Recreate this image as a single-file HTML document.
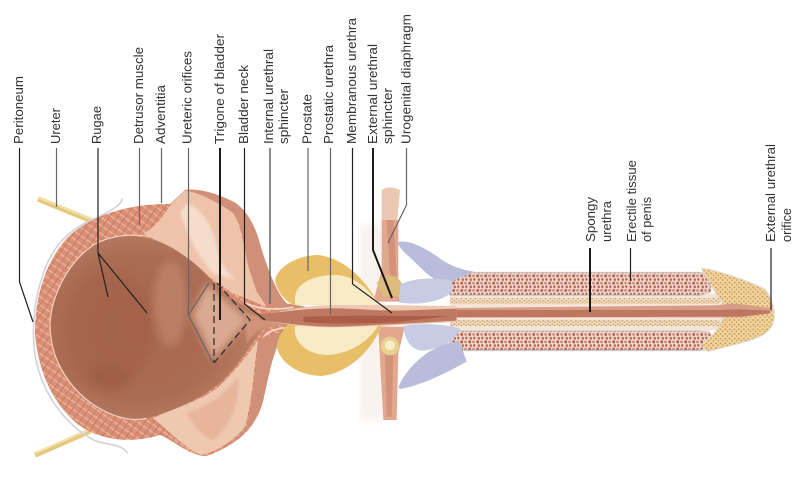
<!DOCTYPE html>
<html><head><meta charset="utf-8"><style>
html,body{margin:0;padding:0;background:#fff}
svg{display:block}
text{font-family:"Liberation Sans",sans-serif;font-size:13px;fill:#333}
.l{stroke:#222;stroke-width:1.2;fill:none}
.g{stroke:#666;stroke-width:1.2;fill:none}
.k{stroke:#111;stroke-width:1.9;fill:none}
</style></head><body>
<svg width="800" height="499" viewBox="0 0 800 499" xmlns="http://www.w3.org/2000/svg">
<defs>
<filter id="b1" x="-5%" y="-5%" width="110%" height="110%"><feGaussianBlur stdDeviation="1"/></filter>
<filter id="b3" x="-10%" y="-10%" width="120%" height="120%"><feGaussianBlur stdDeviation="4"/></filter>
<filter id="b8" x="-30%" y="-30%" width="160%" height="160%"><feGaussianBlur stdDeviation="12"/></filter>
<radialGradient id="lum" cx="0.4" cy="0.5" r="0.66">
<stop offset="0" stop-color="#a9664e"/><stop offset="0.6" stop-color="#ab6c54"/><stop offset="1" stop-color="#c08a72"/>
</radialGradient>
<pattern id="cav" width="24" height="22" patternUnits="userSpaceOnUse">
<rect width="24" height="22" fill="#f2d5c8"/>
<rect x="1" y="1" width="8" height="9" rx="3" fill="#b4614f"/>
<rect x="13" y="2" width="7" height="7" rx="3" fill="#c27765"/>
<rect x="5" y="13" width="7" height="8" rx="3" fill="#bb6a58"/>
<rect x="16" y="12" width="6" height="8" rx="3" fill="#a95a48"/>
</pattern>
<pattern id="sp" width="14" height="10" patternUnits="userSpaceOnUse">
<rect width="14" height="10" fill="#f2dfc0"/>
<rect x="1" y="1" width="5" height="3" fill="#b58a50"/>
<rect x="8" y="5" width="4" height="3" fill="#c0734f"/>
</pattern>
<pattern id="gl" width="14" height="14" patternUnits="userSpaceOnUse">
<rect width="14" height="14" fill="#f0d49c"/>
<rect x="1" y="2" width="5" height="4" fill="#c58f4c"/>
<rect x="8" y="8" width="4" height="4" fill="#c98a58"/>
</pattern>
<pattern id="mus" width="20" height="20" patternUnits="userSpaceOnUse" patternTransform="rotate(35)">
<rect width="20" height="20" fill="#d98f74"/>
<rect width="20" height="5" fill="#eaae96"/>
<rect x="8" width="3" height="20" fill="#c97a62"/>
</pattern>
</defs>
<rect width="800" height="499" fill="#fff"/>

<!-- ureters -->
<path d="M38,199 L97,223" stroke="#e6c97e" stroke-width="5.5" fill="none"/>
<path d="M38,197.5 L97,221.5" stroke="#f5e4ae" stroke-width="1.6" fill="none"/>
<path d="M35,455 L90,431" stroke="#e6c97e" stroke-width="5.5" fill="none"/>
<path d="M35,453 L90,429.5" stroke="#f5e4ae" stroke-width="1.6" fill="none"/>

<!-- urogenital diaphragm halo -->
<rect x="360" y="225" width="24" height="195" fill="#f3e4dd" opacity=".5" filter="url(#b3)"/>

<!-- bladder -->
<g transform="translate(0,170) scale(.33333)">
<path d="M368,85 C360,112 320,128 285,146 C215,172 160,222 130,310 C105,380 92,470 106,560 C125,660 185,760 285,812 C320,825 365,820 382,850" fill="none" stroke="#d3d3d8" stroke-width="5"/>
<path d="M510,102 L555,60 C600,55 650,70 705,98 C750,130 770,180 785,240 C805,300 830,370 860,400 L915,410 L915,470 L860,480 C825,520 810,600 790,690 C770,770 720,820 620,858 C570,860 520,810 480,795 C400,820 300,815 230,760 C160,700 115,610 105,490 C105,380 135,280 200,205 C270,135 390,100 510,102 Z" fill="url(#mus)"/>
<path d="M555,60 C600,55 650,70 705,98 C750,130 770,180 785,240 C805,300 830,370 860,400 L915,410 L880,425 L770,395 C750,330 735,220 720,165 C680,110 620,80 555,60 Z" fill="#cf8f78"/>
<!-- upper lobe -->
<path d="M515,100 L555,62 C595,66 660,100 700,130 C722,160 732,230 745,290 L770,365 L800,410 L700,370 L600,300 L520,240 L430,190 C470,170 495,130 515,100 Z" fill="#eec3aa"/>
<path d="M560,100 C600,110 640,170 650,230 C655,270 680,310 710,330 L640,310 C590,260 560,180 540,130 Z" fill="#f6dccb" filter="url(#b3)"/>
<!-- lower lobe -->
<path d="M460,745 C500,720 590,700 650,655 C700,610 740,560 775,510 C760,590 760,680 735,770 C700,815 650,845 605,855 C560,840 510,785 460,745 Z" fill="#efc8b0"/>
<path d="M560,730 C620,710 680,670 715,620 C720,680 700,760 640,810 C610,800 580,770 560,730 Z" fill="#e3ad94" filter="url(#b3)" opacity=".7"/>
<path d="M775,510 C765,590 765,680 740,770 C715,805 680,830 640,848 C700,825 770,770 790,690 C805,610 820,530 860,480 Z" fill="#cf8f78"/>
<!-- lumen -->
<path d="M150,460 C155,380 200,280 280,225 C330,195 400,190 470,212 C530,235 590,280 630,325 C680,380 740,420 800,438 L800,470 C770,490 730,570 680,620 C620,680 520,725 440,745 C370,760 280,720 220,650 C170,590 148,530 150,460 Z" fill="url(#lum)"/>
<ellipse cx="330" cy="480" rx="130" ry="180" fill="#a05d45" opacity=".45" filter="url(#b8)"/>
<ellipse cx="330" cy="620" rx="60" ry="35" fill="#95533c" opacity=".35" filter="url(#b8)"/>
<ellipse cx="510" cy="400" rx="50" ry="130" fill="#c99478" opacity=".5" filter="url(#b8)"/>
<!-- trigone lightening -->
<path d="M620,340 L745,450 L640,570 L575,435 Z" fill="#dfb098" opacity=".9" filter="url(#b8)"/>
<path d="M735,425 C770,440 790,445 820,445 L910,430 L910,462 L820,466 C785,470 760,490 740,520 Z" fill="#d09479" filter="url(#b3)"/>
<path d="M790,500 C810,480 840,472 890,470" fill="none" stroke="#f2d8cb" stroke-width="5"/>
<path d="M740,400 C780,420 830,420 880,412" fill="none" stroke="#f2d8cb" stroke-width="5"/>
<path d="M150,460 C155,380 200,280 280,225 C330,195 400,190 450,200" fill="none" stroke="#f1d3c0" stroke-width="3.5"/>
<path d="M150,460 C150,530 170,590 220,650 C280,720 370,760 440,745" fill="none" stroke="#f1d3c0" stroke-width="3.5"/>
</g>

<!-- penis shaft -->
<g transform="translate(500,230) scale(.33333)">
<rect x="-150" y="127" width="780" height="236" fill="#f5e4d6"/>
<rect x="620" y="190" width="60" height="110" fill="#f5e4d6"/>
<path d="M-150,127 H600 C625,130 635,160 632,185 L600,196 H-150 Z" fill="url(#cav)" stroke="#bcc6c6" stroke-width="3"/>
<path d="M-150,303 H600 L632,310 C635,335 620,355 600,362 H-150 Z" fill="url(#cav)" stroke="#bcc6c6" stroke-width="3"/>
<rect x="-150" y="204" width="810" height="18" fill="url(#sp)"/>
<rect x="-150" y="270" width="810" height="18" fill="url(#sp)"/>
<!-- glans -->
<path d="M605,115 C650,120 740,150 795,178 C815,200 825,240 822,268 C815,310 780,325 700,345 L625,364 C610,360 605,345 612,335 C640,320 660,290 670,262 L670,225 C650,190 620,150 605,115 Z" fill="url(#gl)" stroke="#d7dad2" stroke-width="3"/>
<path d="M-150,234 L640,226 C670,226 680,218 720,222 L812,235 L812,250 L720,262 L640,262 L-150,262 Z" fill="#d79d87"/>
<path d="M-150,240 L640,240 L720,238 L810,242 L810,250 L720,260 L640,260 L-150,262 Z" fill="#bf7660" filter="url(#b1)"/>
<path d="M-150,232 L640,223" stroke="#f6e6da" stroke-width="3" fill="none"/>
</g>

<!-- prostate, urethra, crura -->
<g transform="translate(250,220) scale(.33333)">
<path d="M395,0 L445,0 L445,175 L450,245 L370,245 L395,150 Z" fill="#e2a88e"/>
<path d="M395,-90 C410,-100 430,-100 450,-90 L442,0 L395,0 Z" fill="#ecc8b2"/>
<path d="M410,0 L430,0 L440,170 L420,170 Z" fill="#d39279"/>
<path d="M385,320 L465,320 L445,400 L440,600 L400,600 L390,420 Z" fill="#e2a88e"/>
<path d="M405,400 L430,400 L425,590 L410,590 Z" fill="#d39279"/>
<path d="M75,180 C85,135 150,105 205,105 C280,115 340,170 385,250 L130,255 C100,240 80,210 75,180 Z" fill="#e8bf68"/>
<path d="M135,235 C135,190 190,165 255,165 C310,165 355,205 390,258 L135,255 Z" fill="#f7ebc5"/>
<path d="M80,380 C90,430 150,468 215,468 C290,460 360,400 395,318 L110,315 C95,335 82,355 80,380 Z" fill="#e8bf68"/>
<path d="M135,318 C128,365 170,405 235,405 C305,400 360,360 385,315 Z" fill="#f7ebc5"/>
<path d="M380,190 C400,160 440,155 458,195 L450,225 L400,230 Z" fill="#dcbd7c"/>
<circle cx="420" cy="378" r="28" fill="#e8d08e"/>
<circle cx="420" cy="376" r="15" fill="#f8efc8"/>
<!-- crura -->
<path d="M442,66 C475,58 520,80 565,112 C595,135 630,148 672,155 L600,188 L555,178 C525,160 500,130 475,108 C460,95 448,82 442,66 Z" fill="#b9bddb"/>
<path d="M450,195 C480,178 530,170 600,180 C612,195 612,215 590,228 C550,250 500,255 450,248 Z" fill="#c7cbe3"/>
<path d="M460,318 C500,310 580,310 630,325 C618,358 590,382 520,392 C490,392 465,370 460,318 Z" fill="#c7cbe3"/>
<path d="M445,502 C458,468 490,428 530,400 C570,375 600,368 628,362 L650,425 C590,458 520,495 450,507 Z" fill="#b9bddb"/>
<!-- urethra -->
<path d="M40,285 C80,280 130,258 250,255 L400,255 L620,258 L620,306 L400,318 L250,322 C130,322 80,305 40,300 Z" fill="#edc9b4"/>
<path d="M30,282 C90,278 150,265 250,265 C320,265 380,272 440,272 L620,266 L620,302 L440,312 C380,314 320,320 250,320 C160,320 90,306 30,300 Z" fill="#bf7861"/>
<path d="M160,290 C220,290 300,285 430,288 L600,288 L430,308 C300,310 220,314 160,305 Z" fill="#ad5c47" filter="url(#b1)"/>
</g>

<!-- leader lines -->
<path class="l" d="M19.5,148 V282 L33,322"/>
<path class="g" d="M56.5,148 V207"/>
<path class="l" d="M98,148 V253 L108,297 M98,253 L147,313"/>
<path class="g" d="M139.5,148 V225"/>
<path class="g" d="M161.5,148 V203"/>
<path class="g" d="M188.5,148 V315 L209,283 M188.5,315 L213,363"/>
<path class="k" d="M220,148 V320"/>
<path class="l" d="M244.5,148 V304 L265,320"/>
<path class="g" d="M270,148 V304" style="stroke-width:1.5"/>
<path class="g" d="M308,148 V271"/>
<path class="g" d="M330.5,148 V315"/>
<path class="l" d="M352.5,148 V284 L392,313"/>
<path class="k" d="M373,148 V250 L392,298"/>
<path class="g" d="M406.5,148 V205 L388,243"/>
<path class="k" d="M590,248 V312"/>
<path class="l" d="M630.5,248 V281"/>
<path class="l" d="M771,248 V310"/>
<path stroke="#333" stroke-width="1.3" fill="none" stroke-dasharray="7 4" d="M214,283 V363"/>
<path stroke="#333" stroke-width="1.3" fill="none" stroke-dasharray="7 4" d="M217,283 L250,320 L214,363"/>

<!-- labels -->
<g>
<text transform="translate(23,144) rotate(-90)" textLength="68" lengthAdjust="spacingAndGlyphs">Peritoneum</text>
<text transform="translate(60,144) rotate(-90)" textLength="36" lengthAdjust="spacingAndGlyphs">Ureter</text>
<text transform="translate(101,144) rotate(-90)" textLength="38" lengthAdjust="spacingAndGlyphs">Rugae</text>
<text transform="translate(143,144) rotate(-90)" textLength="97" lengthAdjust="spacingAndGlyphs">Detrusor muscle</text>
<text transform="translate(165,144) rotate(-90)" textLength="59" lengthAdjust="spacingAndGlyphs">Adventitia</text>
<text transform="translate(191.5,144) rotate(-90)" textLength="93" lengthAdjust="spacingAndGlyphs">Ureteric orifices</text>
<text transform="translate(224,144) rotate(-90)" textLength="110" lengthAdjust="spacingAndGlyphs">Trigone of bladder</text>
<text transform="translate(248,144) rotate(-90)" textLength="79" lengthAdjust="spacingAndGlyphs">Bladder neck</text>
<text transform="translate(273,144) rotate(-90)" textLength="95" lengthAdjust="spacingAndGlyphs">Internal urethral</text>
<text transform="translate(288,144) rotate(-90)" textLength="55" lengthAdjust="spacingAndGlyphs">sphincter</text>
<text transform="translate(311.5,144) rotate(-90)" textLength="50" lengthAdjust="spacingAndGlyphs">Prostate</text>
<text transform="translate(333,144) rotate(-90)" textLength="99" lengthAdjust="spacingAndGlyphs">Prostatic urethra</text>
<text transform="translate(356,144) rotate(-90)" textLength="126" lengthAdjust="spacingAndGlyphs">Membranous urethra</text>
<text transform="translate(377,144) rotate(-90)" textLength="100" lengthAdjust="spacingAndGlyphs">External urethral</text>
<text transform="translate(392,144) rotate(-90)" textLength="56" lengthAdjust="spacingAndGlyphs">sphincter</text>
<text transform="translate(410.5,144) rotate(-90)" textLength="130" lengthAdjust="spacingAndGlyphs">Urogenital diaphragm</text>
<text transform="translate(595,242) rotate(-90)" textLength="45" lengthAdjust="spacingAndGlyphs">Spongy</text>
<text transform="translate(611,242) rotate(-90)" textLength="41" lengthAdjust="spacingAndGlyphs">urethra</text>
<text transform="translate(636,242) rotate(-90)" textLength="82" lengthAdjust="spacingAndGlyphs">Erectile tissue</text>
<text transform="translate(651,242) rotate(-90)" textLength="45" lengthAdjust="spacingAndGlyphs">of penis</text>
<text transform="translate(775,242) rotate(-90)" textLength="98" lengthAdjust="spacingAndGlyphs">External urethral</text>
<text transform="translate(791,242) rotate(-90)" textLength="34" lengthAdjust="spacingAndGlyphs">orifice</text>
</g>
</svg>
</body></html>
